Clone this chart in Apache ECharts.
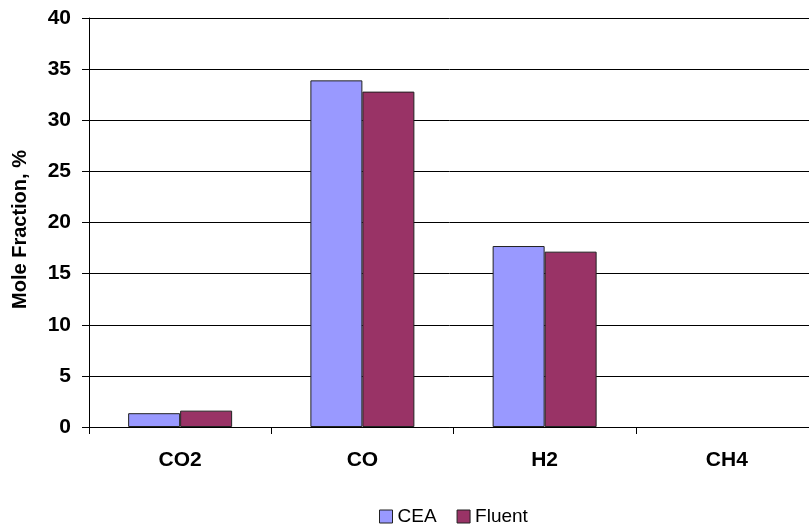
<!DOCTYPE html>
<html><head><meta charset="utf-8">
<script src="https://cdn.jsdelivr.net/npm/echarts@6/dist/echarts.min.js"></script>
<style>html,body{margin:0;padding:0;background:#fff}#c{width:809px;height:526px}</style>
</head><body><div id="c"></div>
<script>
const categories = ['CO2', 'CO', 'H2', 'CH4'];
const ceaValues = [1.35, 33.9, 17.7, 0];
const fluentValues = [1.6, 32.8, 17.15, 0];
const yTicks = {min: 0, max: 40, interval: 5};

const chart = echarts.init(document.getElementById('c'));
const font = 'Liberation Sans, Arial, sans-serif';
const toItems = vals => vals.map(v => ({value: v, itemStyle: {borderWidth: v === 0 ? 0 : 1}}));
chart.setOption({
  animation: false,
  backgroundColor: '#fff',
  grid: {left: 89, top: 18, width: 729, height: 409, containLabel: false, outerBoundsMode: 'none'},
  legend: {
    top: 502, left: 374, itemWidth: 13, itemHeight: 13, itemGap: 20,
    icon: 'rect',
    itemStyle: {borderColor: '#222', borderWidth: 1},
    textStyle: {fontFamily: font, fontSize: 19, color: '#000'},
    data: ['CEA', 'Fluent']
  },
  xAxis: {
    type: 'category', data: categories,
    axisLine: {lineStyle: {color: '#000', width: 1}},
    axisTick: {show: true, length: 7, lineStyle: {color: '#000'}},
    axisLabel: {fontFamily: font, fontSize: 21, fontWeight: 'bold', color: '#000', margin: 23}
  },
  yAxis: {
    type: 'value', min: yTicks.min, max: yTicks.max, interval: yTicks.interval,
    name: 'Mole Fraction, %', nameLocation: 'middle', nameGap: 59, nameRotate: 90,
    nameTextStyle: {fontFamily: font, fontSize: 20, fontWeight: 'bold', color: '#000', padding: [0, 14, 0, 0]},
    axisLine: {show: true, lineStyle: {color: '#000', width: 1}},
    axisTick: {show: true, length: 7, inside: false, lineStyle: {color: '#000'}},
    axisLabel: {fontFamily: font, fontSize: 21, fontWeight: 'bold', color: '#000', margin: 18},
    splitLine: {show: true, lineStyle: {color: '#000', width: 1}}
  },
  series: [
    {name: 'CEA', type: 'bar', data: toItems(ceaValues), barWidth: 52, barGap: '0%',
     itemStyle: {color: '#9999FF', borderColor: '#222'}},
    {name: 'Fluent', type: 'bar', data: toItems(fluentValues), barWidth: 52, barGap: '0%',
     itemStyle: {color: '#993366', borderColor: '#222'}}
  ]
});
</script></body></html>
